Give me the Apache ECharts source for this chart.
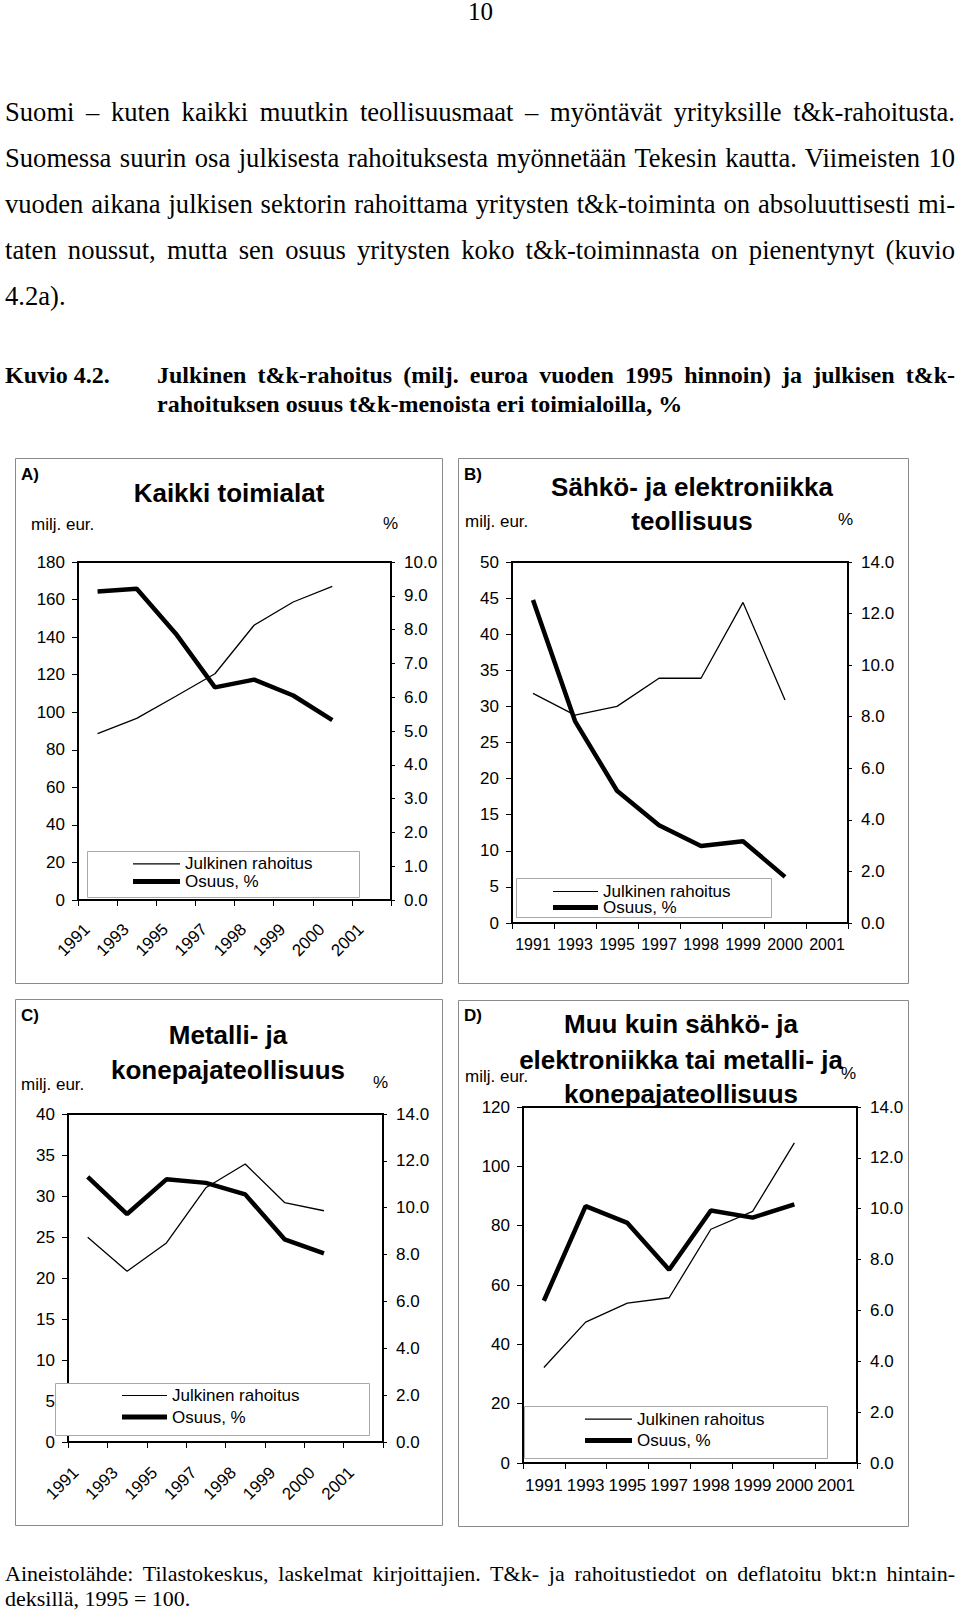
<!DOCTYPE html>
<html><head><meta charset="utf-8">
<script src="https://cdn.jsdelivr.net/npm/echarts@6/dist/echarts.min.js"></script>
<style>
html,body{margin:0;padding:0;background:#fff;}
body{width:960px;height:1614px;position:relative;overflow:hidden;font-family:"Liberation Serif","Times New Roman",serif;color:#000;}
.t{position:absolute;white-space:nowrap;display:inline-block;}
.b27{font-size:26.6px;line-height:26.6px;}
.cap{font-size:24px;line-height:24px;font-weight:bold;}
.fn{font-size:22px;line-height:22px;}
#chart{position:absolute;left:0;top:0;width:960px;height:1614px;}
</style></head>
<body>
<div id="chart"></div>
<div class="t" style="left:468px;top:-1px;font-size:25px;line-height:25px;">10</div>
<div class="t b27 j" data-w="950" style="left:5px;top:98.5px;">Suomi – kuten kaikki muutkin teollisuusmaat – myöntävät yrityksille t&amp;k-rahoitusta.</div>
<div class="t b27 j" data-w="950" style="left:5px;top:144.5px;">Suomessa suurin osa julkisesta rahoituksesta myönnetään Tekesin kautta. Viimeisten 10</div>
<div class="t b27 j" data-w="950" style="left:5px;top:190.5px;">vuoden aikana julkisen sektorin rahoittama yritysten t&amp;k-toiminta on absoluuttisesti mi-</div>
<div class="t b27 j" data-w="950" style="left:5px;top:236.5px;">taten noussut, mutta sen osuus yritysten koko t&amp;k-toiminnasta on pienentynyt (kuvio</div>
<div class="t b27" style="left:5px;top:282.5px;">4.2a).</div>
<div class="t cap" style="left:5px;top:363px;">Kuvio 4.2.</div>
<div class="t cap j" data-w="798" style="left:157px;top:363px;">Julkinen t&amp;k-rahoitus (milj. euroa vuoden 1995 hinnoin) ja julkisen t&amp;k-</div>
<div class="t cap" style="left:157px;top:392px;">rahoituksen osuus t&amp;k-menoista eri toimialoilla, %</div>
<div class="t fn j" data-w="950" style="left:5px;top:1563px;">Aineistolähde: Tilastokeskus, laskelmat kirjoittajien. T&amp;k- ja rahoitustiedot on deflatoitu bkt:n hintain-</div>
<div class="t fn" style="left:5px;top:1588px;">deksillä, 1995 = 100.</div>
<script>
// ---- data ----
const years = ['1991','1993','1995','1997','1998','1999','2000','2001'];
const seriesNames = ['Julkinen rahoitus', 'Osuus, %'];

const titleA = ['Kaikki toimialat'];
const fundingA = [88.6, 96.7, 108.5, 120.5, 146.3, 158.7, 167.0];
const shareA   = [9.13, 9.21, 7.88, 6.29, 6.52, 6.05, 5.32];

const titleB = ['Sähkö- ja elektroniikka', 'teollisuus'];
const fundingB = [31.8, 28.8, 30.0, 33.9, 33.9, 44.4, 30.9];
const shareB   = [12.53, 7.83, 5.13, 3.79, 2.99, 3.17, 1.79];

const titleC = ['Metalli- ja', 'konepajateollisuus'];
const fundingC = [24.97, 20.83, 24.27, 31.0, 33.9, 29.2, 28.2];
const shareC   = [11.32, 9.73, 11.21, 11.06, 10.57, 8.65, 8.05];

const titleD = ['Muu kuin sähkö- ja', 'elektroniikka tai metalli- ja', 'konepajateollisuus'];
const fundingD = [32.2, 47.5, 53.9, 55.7, 78.8, 84.8, 107.9];
const shareD   = [6.38, 10.10, 9.44, 7.60, 9.93, 9.65, 10.17];

// axis ranges: [leftMax, leftStep, rightMax, rightStep]
const axesA = [180, 20, 10, 1];
const axesB = [50, 5, 14, 2];
const axesC = [40, 5, 14, 2];
const axesD = [120, 20, 14, 2];

// ---- layout ----
const FS = '"Liberation Sans", Arial, sans-serif';
const panels = [
  {tag:'A)', title:titleA, funding:fundingA, share:shareA, axes:axesA,
   frame:[15,458,427,525], grid:[78,562,313,338], rot:45, xfs:17, xm:16, xpad:[0,15,0,0],
   tagY:474, titleX:229, titleY:[493], unitY:524, unitX:31, pctX:383, pctY:523,
   leg:{box:[87,851,272,46], left:133, top:855.4, gap:0.5, w:47}},
  {tag:'B)', title:titleB, funding:fundingB, share:shareB, axes:axesB,
   frame:[458,458,450,525], grid:[512,562,336,361], rot:0, xfs:16, xm:13, xpad:0,
   tagY:474, titleX:692, titleY:[487,521], unitY:521, unitX:465, pctX:838, pctY:519,
   leg:{box:[516,878,255,39], left:553, top:883, gap:-1, w:45}},
  {tag:'C)', title:titleC, funding:fundingC, share:shareC, axes:axesC,
   frame:[15,999,427,526], grid:[68,1114,315,328], rot:45, xfs:17, xm:16, xpad:[0,17,0,0],
   tagY:1015, titleX:228, titleY:[1035,1070], unitY:1084, unitX:21, pctX:373, pctY:1082,
   leg:{box:[55,1383,314,52], left:122, top:1387, gap:4.5, w:45}},
  {tag:'D)', title:titleD, funding:fundingD, share:shareD, axes:axesD,
   frame:[458,1000,450,526], grid:[523,1107,334,356], rot:0, xfs:17, xm:14, xpad:0,
   tagY:1015, titleX:681, titleY:[1024,1060,1094], unitY:1076, unitX:465, pctX:841, pctY:1073,
   leg:{box:[524,1406,303,52], left:585, top:1410.6, gap:4.5, w:47}}
];

function txt(x, y, text, size, bold, align) {
  return {type:'text', x:x, y:y, z:10, silent:true,
    style:{text:text, font:(bold?'bold ':'') + size + 'px ' + FS, fill:'#000',
      align:align, verticalAlign:'middle', textAlign:align, textVerticalAlign:'middle'}};
}

const grids = [], xAxes = [], yAxes = [], series = [], legends = [], graphics = [];
const thinIcon = 'path://M0 0H47V1.3H0Z';
const thickIcon = 'path://M0 0H47V5H0Z';

panels.forEach((p, i) => {
  const f = p.frame;
  graphics.push({type:'rect', z:1, silent:true, shape:{x:f[0]+0.5, y:f[1]+0.5, width:f[2], height:f[3]},
    style:{fill:'none', stroke:'#8a8a8a', lineWidth:1}});
  const lb = p.leg.box;
  graphics.push({type:'rect', z:3, silent:true, shape:{x:lb[0]+0.5, y:lb[1]+0.5, width:lb[2], height:lb[3]},
    style:{fill:'#fff', stroke:'#a8a8a8', lineWidth:1}});
  graphics.push(txt(f[0]+6, p.tagY, p.tag, 17, true, 'left'));
  p.title.forEach((t, k) => graphics.push(txt(p.titleX, p.titleY[k], t, 26, true, 'center')));
  graphics.push(txt(p.unitX, p.unitY, 'milj. eur.', 17, false, 'left'));
  graphics.push(txt(p.pctX, p.pctY, '%', 17, false, 'left'));

  const g = p.grid;
  grids.push({left:g[0], top:g[1], width:g[2], height:g[3], show:true, borderColor:'#000', borderWidth:2,
    backgroundColor:'transparent', containLabel:false, outerBoundsMode:'none'});
  xAxes.push({type:'category', gridIndex:i, data:years, boundaryGap:true,
    axisLine:{show:true, lineStyle:{color:'#000', width:2}},
    axisTick:{show:true, length:6, lineStyle:{color:'#000', width:1}},
    axisLabel:{interval:0, rotate:p.rot, fontSize:p.xfs, fontFamily:FS, color:'#000', margin:p.xm, padding:p.xpad},
    splitLine:{show:false}});
  const ax = p.axes;
  yAxes.push({type:'value', gridIndex:i, position:'left', min:0, max:ax[0], interval:ax[1],
    axisLine:{show:true, lineStyle:{color:'#000', width:2}},
    axisTick:{show:true, length:6, lineStyle:{color:'#000', width:1}},
    axisLabel:{fontSize:17, fontFamily:FS, color:'#000', margin:13},
    splitLine:{show:false}});
  yAxes.push({type:'value', gridIndex:i, position:'right', min:0, max:ax[2], interval:ax[3],
    axisLine:{show:true, lineStyle:{color:'#000', width:2}},
    axisTick:{show:true, length:4, lineStyle:{color:'#000', width:1}},
    axisLabel:{fontSize:17, fontFamily:FS, color:'#000', margin:13, formatter:v => v.toFixed(1)},
    splitLine:{show:false}});
  series.push({type:'line', name:seriesNames[0], xAxisIndex:i, yAxisIndex:2*i, data:p.funding,
    symbol:'none', lineStyle:{color:'#000', width:1.3}, itemStyle:{color:'#000'}, z:2, animation:false});
  series.push({type:'line', name:seriesNames[1], xAxisIndex:i, yAxisIndex:2*i+1, data:p.share,
    symbol:'none', lineStyle:{color:'#000', width:4.5}, itemStyle:{color:'#000'}, z:2, animation:false});
  legends.push({show:true, orient:'vertical', left:p.leg.left, top:p.leg.top, padding:0,
    itemWidth:p.leg.w, itemHeight:6, itemGap:p.leg.gap, selectedMode:false, symbolKeepAspect:true,
    itemStyle:{color:'#000', borderWidth:0},
    textStyle:{fontSize:17, fontFamily:FS, color:'#000'},
    data:[{name:seriesNames[0], icon:thinIcon}, {name:seriesNames[1], icon:thickIcon}], z:5});
});

const chart = echarts.init(document.getElementById('chart'), null, {renderer:'svg', width:960, height:1614});
chart.setOption({
  animation:false,
  backgroundColor:'transparent',
  grid:grids, xAxis:xAxes, yAxis:yAxes, series:series, legend:legends, graphic:graphics
});

// justify text lines to the measured column width
document.querySelectorAll('.j').forEach(el => {
  const target = +el.dataset.w;
  el.style.wordSpacing = '0px';
  const w = el.getBoundingClientRect().width;
  const n = (el.textContent.match(/ /g) || []).length;
  if (n) el.style.wordSpacing = ((target - w) / n) + 'px';
});
</script>
</body></html>
